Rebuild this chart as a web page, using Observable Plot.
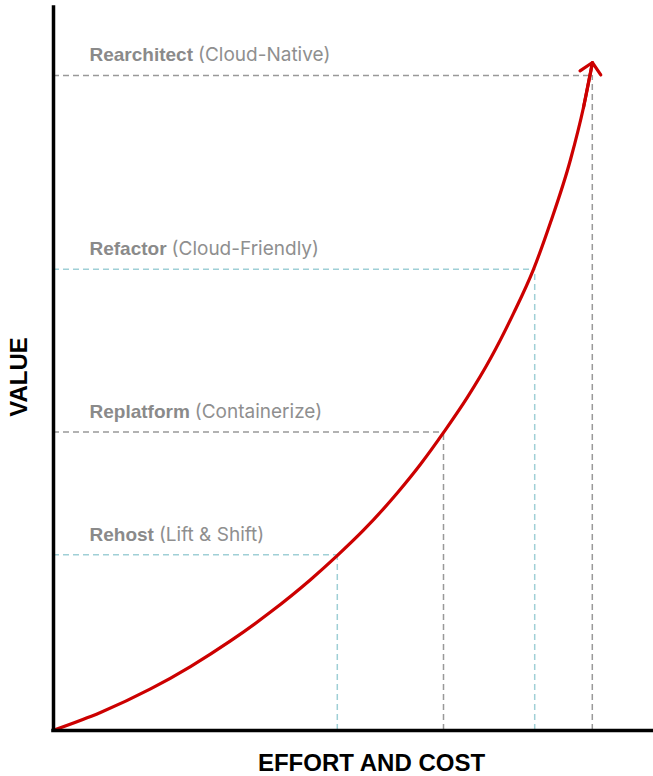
<!DOCTYPE html>
<html>
<head>
<meta charset="utf-8">
<script src="https://cdn.jsdelivr.net/npm/d3@7"></script>
<script src="https://cdn.jsdelivr.net/npm/@observablehq/plot@0.6"></script>
<style>
  html, body { margin: 0; padding: 0; background: #fff; }
  #chart svg { display: block; }
</style>
</head>
<body>
<div id="chart"></div>
<script>
// Curve: effort (x) vs value (y)
const effort = [0.33, 7.83, 16.17, 22.83, 29.5, 36.17, 42.83, 47.33, 51.67, 57.33, 61.17, 65.17, 69.0, 72.83, 76.67, 80.0, 82.83, 86.17, 88.33, 89.83];
const value  = [0.14, 2.50, 5.75, 8.85, 12.39, 16.38, 20.86, 24.22, 27.70, 32.88, 36.82, 41.40, 46.10, 51.44, 57.70, 63.79, 70.26, 78.98, 86.17, 92.39];

// Migration stages
const stages      = ["Rehost", "Replatform", "Refactor", "Rearchitect"];
const notes       = ["(Lift & Shift)", "(Containerize)", "(Cloud-Friendly)", "(Cloud-Native)"];
const stageEffort = [47.3, 65.0, 80.2, 89.8];
const stageValue  = [24.3, 41.3, 63.8, 90.6];
const stageColor  = ["#9fcfd6", "#999999", "#9fcfd6", "#999999"];

const xLabel = "EFFORT AND COST";
const yLabel = "VALUE";

const curveIdx = d3.range(effort.length);
const stageIdx = d3.range(stages.length);
const last = effort.length - 1;

const plot = Plot.plot({
  width: 653,
  height: 776,
  marginTop: 7,
  marginLeft: 53,
  marginRight: 0,
  marginBottom: 46,
  x: {domain: [0, 100], axis: null},
  y: {domain: [0, 100], axis: null},
  color: {type: "identity"},
  style: {background: "#fff", overflow: "visible"},
  marks: [
    Plot.ruleY(stageIdx, {
      x1: 0, x2: i => stageEffort[i], y: i => stageValue[i],
      stroke: i => stageColor[i], strokeWidth: 1.5, strokeDasharray: "6,4"
    }),
    Plot.ruleX(stageIdx, {
      y1: 0, y2: i => stageValue[i], x: i => stageEffort[i],
      stroke: i => stageColor[i], strokeWidth: 1.5, strokeDasharray: "6,4"
    }),
    Plot.line(curveIdx, {
      x: i => effort[i], y: i => value[i], curve: "monotone-x",
      stroke: "#cc0000", strokeWidth: 3.2
    }),
    Plot.arrow([last], {
      x1: i => effort[i - 1], y1: i => value[i - 1],
      x2: i => effort[i], y2: i => value[i],
      stroke: "#cc0000", strokeWidth: 3.2, headLength: 7, headAngle: 90
    }),
    Plot.ruleX([0], {stroke: "#000", strokeWidth: 3.5, strokeLinecap: "square"}),
    Plot.ruleY([0], {stroke: "#000", strokeWidth: 3.5, strokeLinecap: "square"}),
    Plot.text(stageIdx, {
      frameAnchor: "left", y: i => stageValue[i], text: i => stages[i],
      dx: 36, dy: -14, textAnchor: "start", lineAnchor: "bottom",
      fill: "#8a8a8a", fontSize: 19, fontWeight: "bold",
      fontFamily: "Liberation Sans, Arial, sans-serif"
    }),
    Plot.text([yLabel], {
      frameAnchor: "left", dx: -34, dy: 8, rotate: -90,
      textAnchor: "middle", lineAnchor: "middle",
      fill: "#000", fontSize: 24, fontWeight: "bold",
      fontFamily: "Liberation Sans, Arial, sans-serif"
    }),
    Plot.text([xLabel], {
      frameAnchor: "bottom", dx: 18, dy: 33,
      textAnchor: "middle", lineAnchor: "middle",
      fill: "#000", fontSize: 24, fontWeight: "bold",
      fontFamily: "Liberation Sans, Arial, sans-serif"
    })
  ]
});

// Append the lighter parenthetical note after each bold stage name
plot.querySelectorAll("text").forEach(t => {
  const k = stages.indexOf(t.textContent);
  if (k < 0) return;
  const ts = document.createElementNS("http://www.w3.org/2000/svg", "tspan");
  ts.setAttribute("dx", "5");
  ts.setAttribute("font-weight", "normal");
  ts.setAttribute("font-family", "Inter, Liberation Sans, sans-serif");
  ts.setAttribute("fill", "#8f8f8f");
  ts.textContent = notes[k];
  t.appendChild(ts);
});

document.getElementById("chart").appendChild(plot);
</script>
</body>
</html>
